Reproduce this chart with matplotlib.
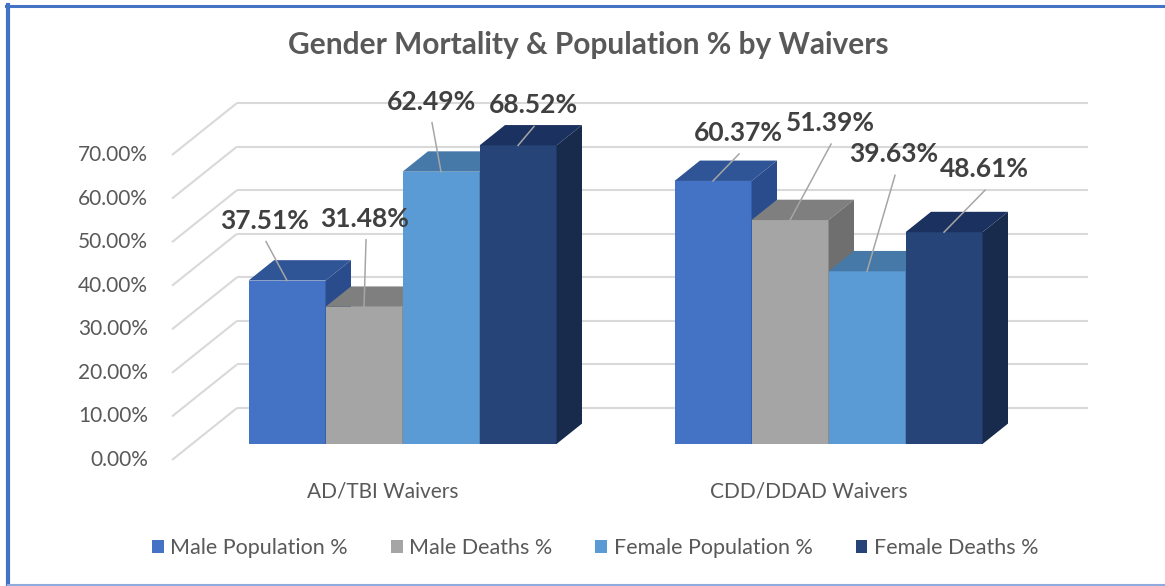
import matplotlib
matplotlib.use("Agg")
import matplotlib.pyplot as plt
from matplotlib.patches import Polygon, Rectangle
from matplotlib.lines import Line2D

# ---------------- data ----------------
categories = ["AD/TBI Waivers", "CDD/DDAD Waivers"]
series_names = ["Male Population %", "Male Deaths %", "Female Population %", "Female Deaths %"]
male_pop = [37.51, 60.37]
male_deaths = [31.48, 51.39]
female_pop = [62.49, 39.63]
female_deaths = [68.52, 48.61]
y_ticks = [0, 10, 20, 30, 40, 50, 60, 70]
y_tick_labels = ["0.00%", "10.00%", "20.00%", "30.00%", "40.00%", "50.00%", "60.00%", "70.00%"]
title = "Gender Mortality & Population % by Waivers"

series_values = [male_pop, male_deaths, female_pop, female_deaths]

# ---------------- styles ----------------
FRONT = ["#4472C4", "#A5A5A5", "#5B9BD5", "#264478"]
TOP = ["#2F5597", "#7F7F7F", "#4678A8", "#1B3260"]
SIDE = ["#2A4C8C", "#6F6F6F", "#3E6A94", "#182B4C"]
TXT = "#595959"
LBL = "#404040"
GRID = "#D9D9D9"
FONT = "Lato"

W_PX, H_PX = 1165, 586
PX_X = 426.0          # pixels per category unit
PX_Y = 4.357          # pixels per percent
X0_PX = 382.5         # pixel x of first category (front plane)
Y0_PX = 460.0         # pixel y of 0% (front plane)
DX = 65 / PX_X        # full depth offset (x, data units)
DY = 52 / PX_Y        # full depth offset (y, data units)
D0, D1 = 0.308, 0.70  # bar front/back depth fractions
BAR_W = 77 / PX_X
WALL_LEFT = (172 - X0_PX) / PX_X
WALL_RIGHT = (1088 - X0_PX) / PX_X

# label offsets (pixels, relative to bar front-top centre)
LABEL_OFF = [[(-22, -60), (25, -48)],
             [(1, -88), (40, -97)],
             [(-10, -70), (27, -117)],
             [(15, -40), (40, -63)]]

fig = plt.figure(figsize=(W_PX / 100, H_PX / 100), dpi=100)
ax = fig.add_axes([0, 0, 1, 1])
ax.set_xlim(-X0_PX / PX_X, (W_PX - X0_PX) / PX_X)
ax.set_ylim(-(H_PX - Y0_PX) / PX_Y, Y0_PX / PX_Y)
ax.axis("off")

# ---------------- walls / gridlines ----------------
for v, lab in zip(y_ticks, y_tick_labels):
    ax.plot([WALL_LEFT, WALL_LEFT + DX], [v, v + DY], color=GRID, lw=1.5, zorder=1,
            solid_capstyle="butt")
    ax.plot([WALL_LEFT + DX, WALL_RIGHT], [v + DY, v + DY], color=GRID, lw=1.5, zorder=1,
            solid_capstyle="butt")
    ax.text(WALL_LEFT - 24 / PX_X, v, lab, ha="right", va="center", fontsize=15,
            color=TXT, family=FONT)

# ---------------- bars ----------------
z = 3
for g in range(len(categories)):
    for s in range(len(series_names)):
        val = series_values[s][g]
        xc = g + (s - 1.5) * BAR_W + D0 * DX
        b = D0 * DY
        bar = ax.bar(xc, val, width=BAR_W, bottom=b, color=FRONT[s], linewidth=0, zorder=z)
        xl, xr = xc - BAR_W / 2, xc + BAR_W / 2
        ddx, ddy = (D1 - D0) * DX, (D1 - D0) * DY
        top = Polygon([(xl, b + val), (xr, b + val), (xr + ddx, b + val + ddy),
                       (xl + ddx, b + val + ddy)], closed=True, facecolor=TOP[s],
                      edgecolor="none", zorder=z + 0.1)
        side = Polygon([(xr, b), (xr + ddx, b + ddy), (xr + ddx, b + val + ddy),
                        (xr, b + val)], closed=True, facecolor=SIDE[s],
                       edgecolor="none", zorder=z + 0.1)
        ax.add_patch(top)
        ax.add_patch(side)
        z += 1

# ---------------- data labels with leader lines ----------------
for g in range(len(categories)):
    for s in range(len(series_names)):
        val = series_values[s][g]
        xc = g + (s - 1.5) * BAR_W + D0 * DX
        ytop = D0 * DY + val
        ox, oy = LABEL_OFF[s][g]
        lx, ly = xc + ox / PX_X, ytop - oy / PX_Y
        ax.plot([lx + 1 / PX_X, xc], [ly - 21 / PX_Y, ytop], color="#A6A6A6", lw=1.1,
                zorder=50)
        ax.text(lx, ly, f"{val:.2f}%", ha="center", va="center", fontsize=19,
                fontweight="bold", color=LBL, family=FONT, zorder=60)

# ---------------- category labels ----------------
for g, cat in enumerate(categories):
    ax.text(g, -(491 - Y0_PX) / PX_Y, cat, ha="center", va="center", fontsize=15,
            color=TXT, family=FONT)

# ---------------- title ----------------
fig.text(588 / W_PX, 1 - 45 / H_PX, title, ha="center", va="center", fontsize=21.5,
         fontweight="bold", color=TXT, family=FONT)

# ---------------- legend ----------------
handles = [Rectangle((0, 0), 1, 1, facecolor=c, edgecolor="none") for c in FRONT]
leg = fig.legend(handles, series_names, loc="center", bbox_to_anchor=(595 / W_PX, 1 - 548 / H_PX),
                 ncol=4, frameon=False, handlelength=0.55, handleheight=0.55,
                 handletextpad=0.3, columnspacing=2.0, prop={"family": FONT, "size": 15.5})
for t in leg.get_texts():
    t.set_color(TXT)

# ---------------- chart border ----------------
fig.add_artist(Line2D([6 / W_PX, 1], [1 - 6 / H_PX, 1 - 6 / H_PX], color="#4472C4", lw=2.2,
                      transform=fig.transFigure))
fig.add_artist(Line2D([8 / W_PX, 8 / W_PX], [1 - 5 / H_PX, 1 - 585 / H_PX], color="#4472C4",
                      lw=3, transform=fig.transFigure))
fig.add_artist(Line2D([8 / W_PX, 1], [1 - 585 / H_PX, 1 - 585 / H_PX], color="#8FAADC", lw=1.5,
                      transform=fig.transFigure))

fig.savefig("out.png", dpi=100)
